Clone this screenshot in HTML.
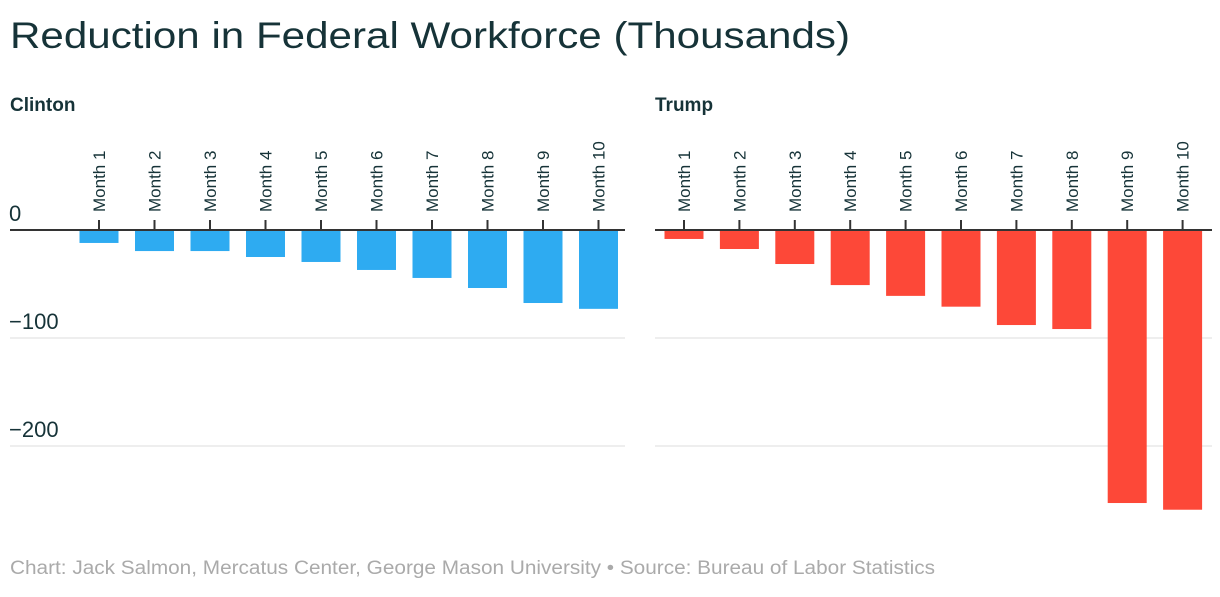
<!DOCTYPE html>
<html><head><meta charset="utf-8"><style>
body{margin:0;background:#fff;width:1220px;height:592px;overflow:hidden;font-family:"Liberation Sans",sans-serif}
</style></head><body>
<svg width="1220" height="592" xmlns="http://www.w3.org/2000/svg">
<text x="10" y="48" font-size="37" fill="#163338" textLength="840" lengthAdjust="spacingAndGlyphs">Reduction in Federal Workforce (Thousands)</text>
<text x="10" y="111" font-size="19" font-weight="bold" fill="#163338">Clinton</text>
<text x="655" y="111" font-size="19" font-weight="bold" fill="#163338">Trump</text>
<g id="g"></g>
<text x="10" y="574" font-size="19" fill="#aaa" textLength="925" lengthAdjust="spacingAndGlyphs">Chart: Jack Salmon, Mercatus Center, George Mason University • Source: Bureau of Labor Statistics</text>
</svg>
<script>
const categories=["Month 1","Month 2","Month 3","Month 4","Month 5","Month 6","Month 7","Month 8","Month 9","Month 10"];
const clintonValues=[-12,-19.5,-19.5,-25,-29.6,-37,-44.4,-53.7,-67.6,-73];
const trumpValues=[-8.3,-17.6,-31.5,-51,-61,-71,-88,-91.7,-252.8,-259];
const yTicks=[0,-100,-200];
const yTickLabels=["0","\u2212100","\u2212200"];
const NS="http://www.w3.org/2000/svg";
const g=document.getElementById('g');
function y(v){return 230-v*1.08;}
function mk(t,a){const e=document.createElementNS(NS,t);for(const k in a)e.setAttribute(k,a[k]);g.appendChild(e);return e;}
function panel(x0,x1,first,step,vals,color,name,labels){
  yTicks.forEach((t,i)=>{
    if(t!==0){const l=mk('line',{x1:x0,x2:x1,y1:y(t),y2:y(t),stroke:'#ddd','stroke-width':1});
    
    }
    if(labels){const tx=mk('text',{x:9,y:y(t)-9,'font-size':22,fill:'#163338'});tx.textContent=yTickLabels[i];
    
    }
  });
  vals.forEach((v,i)=>{
    const c=first+i*step;
    const r=mk('rect',{x:c-19.5,y:y(0),width:39,height:y(v)-y(0),fill:color});
    
    
    const tk=mk('line',{x1:c,x2:c,y1:220,y2:230,stroke:'#333','stroke-width':2});
    
    
    const tx=mk('text',{x:0,y:0,'font-size':17,fill:'#163338',transform:`translate(${c+6},212) rotate(-90)`});
    tx.textContent=categories[i];
    
    
  });
  const z=mk('line',{x1:x0,x2:x1,y1:230,y2:230,stroke:'#333','stroke-width':2});
  
  
}
panel(10,625,99,55.5,clintonValues,'#2eabf1','clinton',true);
panel(655,1212,684,55.4,trumpValues,'#fd4838','trump',false);
</script>
</body></html>
